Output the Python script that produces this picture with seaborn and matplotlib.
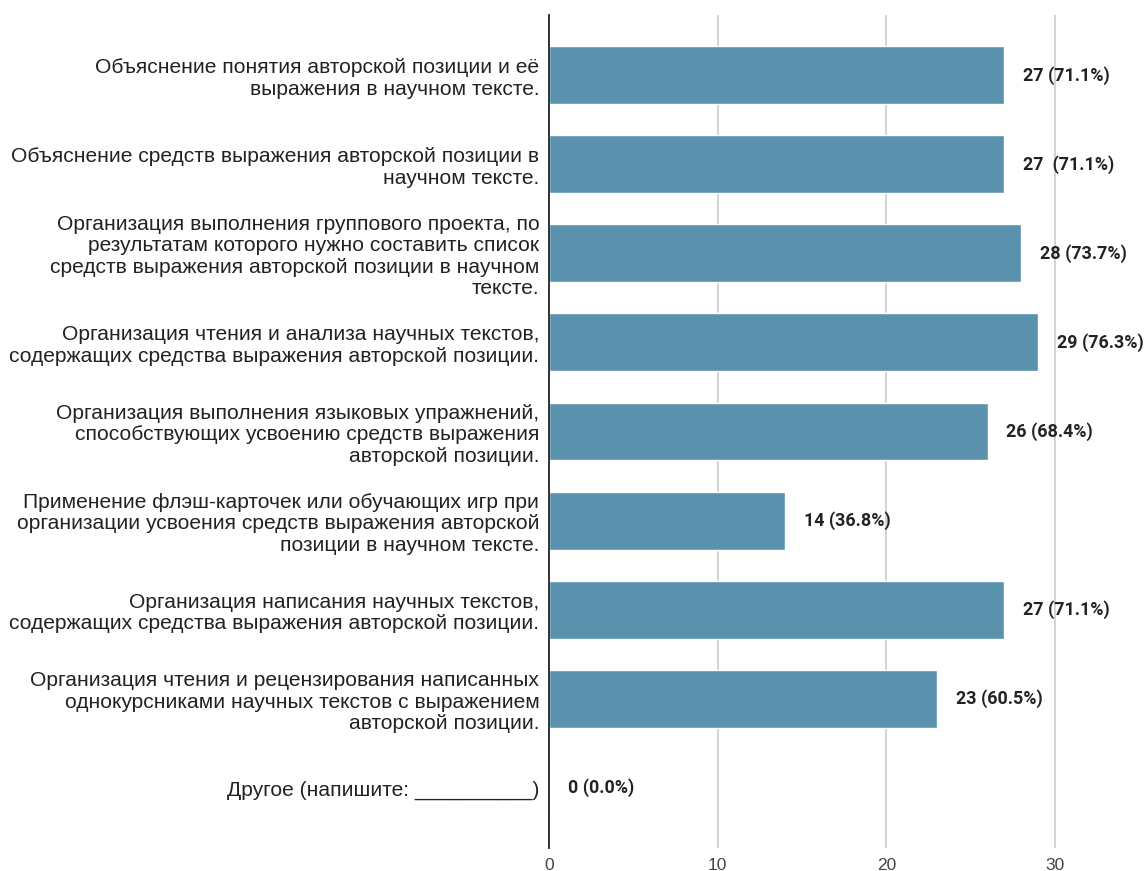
import matplotlib
matplotlib.use("Agg")
import matplotlib.pyplot as plt
import seaborn as sns
import pandas as pd

categories = [
    "Объяснение понятия авторской позиции и её\nвыражения в научном тексте.",
    "Объяснение средств выражения авторской позиции в\nнаучном тексте.",
    "Организация выполнения группового проекта, по\nрезультатам которого нужно составить список\nсредств выражения авторской позиции в научном\nтексте.",
    "Организация чтения и анализа научных текстов,\nсодержащих средства выражения авторской позиции.",
    "Организация выполнения языковых упражнений,\nспособствующих усвоению средств выражения\nавторской позиции.",
    "Применение флэш-карточек или обучающих игр при\nорганизации усвоения средств выражения авторской\nпозиции в научном тексте.",
    "Организация написания научных текстов,\nсодержащих средства выражения авторской позиции.",
    "Организация чтения и рецензирования написанных\nоднокурсниками научных текстов с выражением\nавторской позиции.",
    "Другое (напишите: __________)",
]
counts = [27, 27, 28, 29, 26, 14, 27, 23, 0]
value_labels = ["27 (71.1%)", "27  (71.1%)", "28 (73.7%)", "29 (76.3%)", "26 (68.4%)",
                "14 (36.8%)", "27 (71.1%)", "23 (60.5%)", "0 (0.0%)"]
x_ticks = [0, 10, 20, 30]

df = pd.DataFrame({"cat": categories, "count": counts})

sns.set_theme(style="white")
plt.rcParams["font.family"] = ["Liberation Sans", "DejaVu Sans"]

fig = plt.figure(figsize=(11.47, 8.71), dpi=100)
ax = fig.add_axes([549 / 1147, 1 - 848 / 871, 1 - 549 / 1147, (848 - 15) / 871])

sns.barplot(data=df, x="count", y="cat", orient="h", color="#5a92ae",
            saturation=1, width=0.65, ax=ax, zorder=3)

ax.set_xlim(0, 35.45)
ax.set_ylim(8.675, -0.675)
ax.set_xticks(x_ticks)
ax.set_xticklabels([str(t) for t in x_ticks], fontsize=12.5, color="#444444")
ax.tick_params(axis="x", length=0, pad=7)
ax.tick_params(axis="y", length=0, pad=7)
ax.set_yticks(range(len(categories)))
ax.set_yticklabels(categories, fontsize=15.1, color="#222222", ha="right", linespacing=1.17)
ax.set_xlabel("")
ax.set_ylabel("")
ax.grid(axis="x", color="#cccccc", linewidth=1.2, zorder=0)
ax.grid(axis="y", visible=False)
for s in ["top", "right", "bottom"]:
    ax.spines[s].set_visible(False)
ax.spines["left"].set_color("#222222")
ax.spines["left"].set_linewidth(1.3)
ax.spines["left"].set_zorder(4)

for i, (c, lab) in enumerate(zip(counts, value_labels)):
    ax.text(c + 1.1, i, lab, va="center", ha="left", fontsize=12.9,
            fontweight="bold", family=["Roboto", "DejaVu Sans"], color="#222222")

fig.savefig("out.png", dpi=100)
